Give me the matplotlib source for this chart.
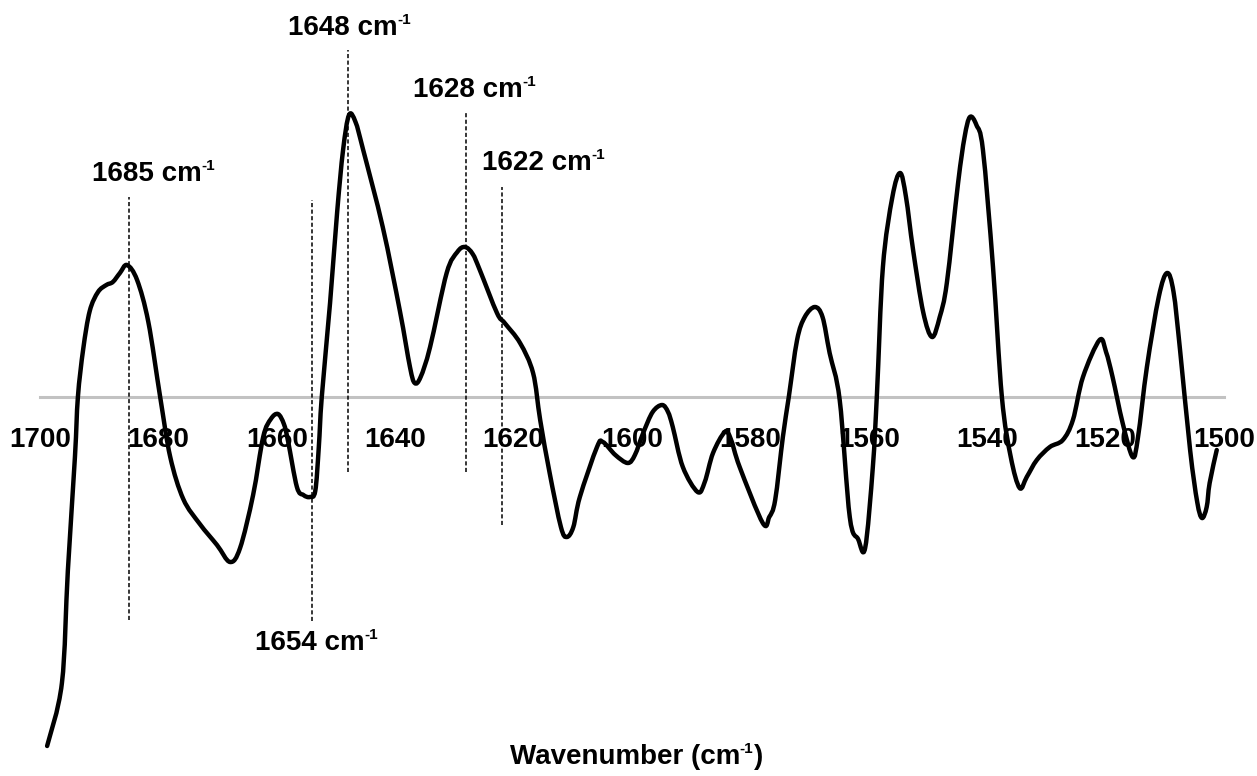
import matplotlib
matplotlib.use("Agg")
import matplotlib.pyplot as plt
from matplotlib.path import Path
from matplotlib.patches import PathPatch

plt.rcParams['font.family'] = ['Liberation Sans', 'DejaVu Sans']

# ===============================
# Spectrum
# ===============================
wavenumber = [
    1698.8, 1696.3, 1695.3, 1694.1, 1693.6, 1692.7, 1691.6, 1690.2, 1688.8, 1687.7,
    1686.5, 1685.3, 1683.6, 1681.7, 1679.7, 1678.0, 1675.8, 1673.0, 1670.1, 1667.9,
    1666.2, 1664.0, 1662.3, 1661.0, 1659.8, 1658.8, 1658.1, 1656.6, 1655.5, 1654.4,
    1653.5, 1652.9, 1652.4, 1651.0, 1649.8, 1648.8, 1647.8, 1646.7, 1645.4, 1642.1,
    1639.2, 1637.5, 1636.7, 1635.7, 1634.1, 1631.3, 1629.5, 1628.2, 1626.9, 1625.7,
    1622.8, 1621.5, 1618.9, 1616.7, 1615.5, 1613.9, 1612.0, 1611.0, 1609.9, 1608.8,
    1605.9, 1604.9, 1602.8, 1600.7, 1599.5, 1598.1, 1596.5, 1594.9, 1593.9, 1593.1,
    1591.4, 1588.9, 1587.7, 1586.3, 1584.3, 1583.3, 1581.8, 1577.9, 1576.8, 1575.8,
    1574.5, 1573.5, 1572.1, 1570.8, 1569.1, 1567.8, 1566.6, 1564.9, 1563.2, 1561.8,
    1560.6, 1559.3, 1558.6, 1557.6, 1556.0, 1554.7, 1553.7, 1552.5, 1550.8, 1549.3,
    1548.0, 1546.8, 1544.9, 1543.8, 1542.9, 1541.8, 1540.7, 1539.0, 1537.5, 1536.0,
    1534.5, 1533.3, 1531.6, 1529.4, 1527.2, 1525.5, 1523.8, 1521.0, 1519.9, 1518.8,
    1517.1, 1515.4, 1514.5, 1513.0, 1511.0, 1509.6, 1508.5, 1507.4, 1505.7, 1504.5,
    1503.7, 1502.9, 1502.4, 1501.2,
]
intensity = [
    -3.49, -2.86, -1.74, -0.60, 0.00, 0.48, 0.86, 1.05, 1.12, 1.15,
    1.24, 1.32, 1.17, 0.75, 0.00, -0.60, -1.02, -1.27, -1.48, -1.65,
    -1.51, -0.98, -0.40, -0.22, -0.17, -0.27, -0.44, -0.90, -0.98, -1.00,
    -0.94, -0.50, 0.00, 0.94, 1.85, 2.47, 2.82, 2.75, 2.47, 1.70,
    0.86, 0.30, 0.14, 0.20, 0.50, 1.24, 1.45, 1.50, 1.43, 1.27,
    0.84, 0.74, 0.54, 0.24, -0.23, -0.76, -1.30, -1.40, -1.30, -1.00,
    -0.50, -0.45, -0.58, -0.66, -0.58, -0.36, -0.15, -0.08, -0.15, -0.30,
    -0.70, -0.95, -0.85, -0.56, -0.35, -0.42, -0.70, -1.26, -1.20, -1.03,
    -0.40, 0.00, 0.57, 0.80, 0.90, 0.80, 0.44, -0.03, -1.20, -1.42,
    -1.51, -0.70, 0.04, 1.30, 2.00, 2.24, 2.00, 1.47, 0.85, 0.60,
    0.80, 1.14, 2.14, 2.60, 2.80, 2.72, 2.47, 1.30, 0.00, -0.60,
    -0.91, -0.80, -0.63, -0.50, -0.43, -0.23, 0.20, 0.57, 0.45, 0.20,
    -0.26, -0.60, -0.40, 0.30, 1.00, 1.24, 1.05, 0.47, -0.53, -1.05,
    -1.21, -1.10, -0.86, -0.53,
]

tick_values = [1700, 1680, 1660, 1640, 1620, 1600, 1580, 1560, 1540, 1520, 1500]

# marked bands: position, dashed line top / bottom, label position
band_pos = [1685, 1648, 1628, 1622, 1654]
band_top = [2.00, 3.47, 2.84, 2.10, 1.97]
band_bottom = [-2.23, -0.75, -0.75, -1.28, -2.24]
band_label_x = [1691.2, 1658.1, 1637.0, 1625.3, 1663.6]
band_label_y = [2.23, 3.69, 3.07, 2.34, -2.46]


# smooth line through the read points (Catmull-Rom -> cubic Bezier path)
def smooth_path(xs, ys):
    n = len(xs)
    verts = [(xs[0], ys[0])]
    codes = [Path.MOVETO]
    for i in range(n - 1):
        a = max(i - 1, 0)
        d = min(i + 2, n - 1)
        c1 = (xs[i] + (xs[i + 1] - xs[a]) / 6, ys[i] + (ys[i + 1] - ys[a]) / 6)
        c2 = (xs[i + 1] - (xs[d] - xs[i]) / 6, ys[i + 1] - (ys[d] - ys[i]) / 6)
        verts += [c1, c2, (xs[i + 1], ys[i + 1])]
        codes += [Path.CURVE4] * 3
    return Path(verts, codes)


def label_with_sup(x, y, base, tail='', ha='left'):
    t = ax.text(x, y, base, ha=ha, va='center', fontsize=20, fontweight='bold')
    s = ax.annotate('-1', xy=(1, 1.0), xycoords=t, xytext=(-0.5, 1.5),
                    textcoords='offset points', ha='left', va='top',
                    fontsize=11, fontweight='bold')
    if tail:
        ax.annotate(tail, xy=(1, 0.5), xycoords=(s, t), xytext=(0.5, 0),
                    textcoords='offset points', ha='left', va='center',
                    fontsize=20, fontweight='bold')
    return t


# ===============================
# Plot
# ===============================
fig = plt.figure(figsize=(12.57, 7.76), dpi=100)
ax = fig.add_axes([0, 0, 1, 1])
ax.set_xlim(1706.76, 1494.4)
ax.set_ylim(-3.79, 3.97)
ax.axis('off')

# baseline
ax.plot([1700, 1500], [0, 0], color='#c2c2c2', lw=2.2, zorder=1)

for w, t, b in zip(band_pos, band_top, band_bottom):
    ax.plot([w, w], [b, t], color='black', lw=1.1, ls=(0, (2.7, 1.6)), zorder=2)

ax.add_patch(PathPatch(smooth_path(wavenumber, intensity), facecolor='none',
                       edgecolor='black', lw=3.2, joinstyle='round',
                       capstyle='round', zorder=3))

for v in tick_values:
    ax.text(v, -0.43, str(v), ha='center', va='center',
            fontsize=20, fontweight='bold', zorder=4)

for w, lx, ly in zip(band_pos, band_label_x, band_label_y):
    label_with_sup(lx, ly, str(w) + ' cm')

# axis title, placed by hand
title = label_with_sup(1620.6, -3.60, 'Wavenumber (cm', tail=')')

fig.savefig('out.png', dpi=100, facecolor='white')
